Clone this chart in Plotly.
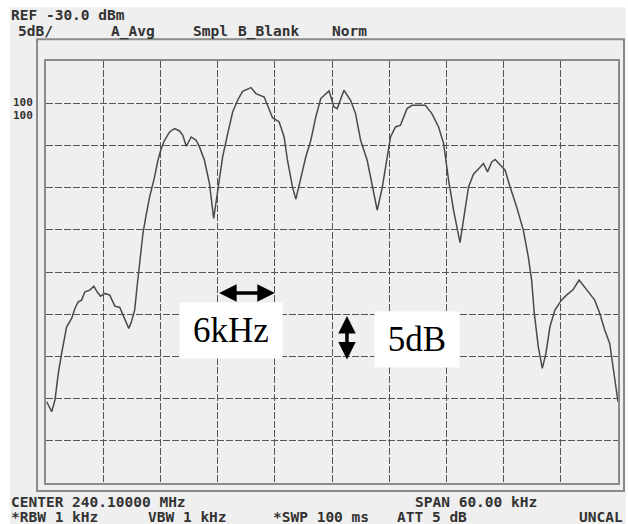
import plotly.graph_objects as go

# Spectrum trace (offset from centre 240.1 MHz in kHz, level in dBm)
freq_khz = [-29.93,-29.40,-29.06,-28.71,-28.36,-27.84,-27.31,-26.97,-26.62,-26.27,
            -25.92,-25.40,-24.98,-24.64,-24.28,-23.83,-23.31,-22.78,-22.26,-21.92,
            -21.64,-21.32,-21.04,-20.70,-20.41,-20.17,-19.83,-19.47,-19.13,-18.61,
            -18.26,-17.91,-17.56,-17.04,-16.52,-15.99,-15.65,-15.29,-14.77,-14.25,
            -13.90,-13.38,-12.86,-12.41,-11.99,-11.47,-10.94,-10.42,-9.90,-9.38,
            -8.50,-7.98,-7.11,-6.59,-6.24,-5.54,-5.02,-4.67,-4.15,-3.79,
            -3.27,-2.75,-2.22,-1.70,-1.18,-0.49,-0.31,0.21,0.55,1.25,
            1.95,2.47,3.00,3.69,4.21,4.74,5.26,5.78,6.14,6.66,
            7.18,7.87,8.39,9.79,10.48,11.18,11.71,12.23,12.75,13.43,
            13.90,14.32,14.84,15.37,15.89,16.31,16.76,17.11,17.64,18.16,
            18.68,19.37,20.07,20.59,20.94,21.22,21.64,22.06,22.44,22.86,
            23.38,24.07,24.60,25.30,25.92,26.34,27.04,27.56,28.09,28.61,
            29.13,29.48,30.00]
level_dbm = [-70.37,-71.56,-70.17,-67.01,-64.64,-61.49,-60.50,-59.32,-58.53,-58.33,
             -57.35,-57.15,-56.68,-57.35,-57.86,-57.54,-57.74,-59.04,-59.20,-60.11,
             -60.90,-61.68,-60.90,-59.52,-56.36,-53.60,-50.44,-48.07,-46.10,-43.73,
             -41.76,-40.37,-39.39,-38.41,-38.00,-38.29,-38.80,-40.10,-39.00,-39.39,
             -40.18,-41.76,-44.48,-48.66,-45.31,-41.37,-38.60,-36.04,-34.65,-33.59,
             -33.15,-33.86,-34.26,-35.64,-36.72,-37.22,-39.00,-41.76,-44.92,-46.37,
             -43.73,-41.37,-39.39,-36.63,-34.45,-33.67,-33.55,-35.45,-35.64,-33.47,
             -34.65,-36.23,-39.39,-41.76,-44.92,-47.68,-45.07,-41.52,-39.00,-37.81,
             -37.61,-35.64,-35.25,-35.25,-36.23,-37.81,-39.78,-44.12,-47.68,-51.53,
             -48.27,-44.92,-43.41,-42.74,-42.15,-43.14,-41.96,-41.67,-42.35,-42.94,
             -44.92,-47.29,-50.04,-53.21,-55.96,-59.91,-63.86,-66.42,-64.64,-61.49,
             -59.52,-58.33,-57.74,-57.07,-55.96,-56.56,-57.54,-58.33,-59.91,-61.88,
             -63.46,-66.23,-70.37]

x_range = [-30, 30]
y_range = [-80, -30]

header_top = ["REF -30.0 dBm"]
header_row = ["5dB/", "A_Avg", "Smpl", "B_Blank", "Norm"]
footer_row1 = ["CENTER 240.10000 MHz", "SPAN 60.00 kHz"]
footer_row2 = ["*RBW 1 kHz", "VBW 1 kHz", "*SWP 100 ms", "ATT 5 dB", "UNCAL"]

W, H = 628, 524
L, R, T, B = 46, 620, 60.7, 483


def px(xp):
    return (xp - L) / (R - L)


def py(yp):
    return (B - yp) / (B - T)


fig = go.Figure()
fig.add_trace(go.Scatter(x=freq_khz, y=level_dbm, mode="lines",
                         line=dict(color="#4a4a4a", width=1.5),
                         hoverinfo="skip", showlegend=False))

grid = dict(showgrid=True, gridcolor="#555555", gridwidth=1, griddash="7px,2px",
            zeroline=False, showticklabels=False, ticks="",
            showline=True, linecolor="#8a8a8a", linewidth=2, mirror=True)
fig.update_xaxes(range=x_range, dtick=6, tick0=-30, **grid)
fig.update_yaxes(range=y_range, dtick=5, tick0=-80, **grid)

shapes = [
    dict(type="rect", xref="paper", yref="paper", x0=px(10), x1=px(628), y0=py(7), y1=py(524),
         fillcolor="#efefef", line=dict(width=0), layer="below"),
    dict(type="rect", xref="paper", yref="paper", x0=px(37), x1=px(626), y0=py(39), y1=py(491),
         fillcolor="rgba(0,0,0,0)", line=dict(color="#8a8a8a", width=2), layer="below"),
]

mono = dict(family="DejaVu Sans Mono", size=14.5, color="#333333")
ann = []


def txt(s, xp, yp, font=mono):
    ann.append(dict(text="<b>%s</b>" % s, xref="paper", yref="paper", x=px(xp), y=py(yp),
                    xanchor="left", yanchor="middle", showarrow=False, font=font))


txt(header_top[0], 9, 15)
for s, xp in zip(header_row, [16, 109, 192, 237, 331]):
    txt(s, xp, 31)
small = dict(family="DejaVu Sans Mono", size=11, color="#333333")
txt("100", 11, 102, small)
txt("100", 11, 115, small)
for s, xp in zip(footer_row1, [9, 414]):
    txt(s, xp, 502)
for s, xp in zip(footer_row2, [9, 146, 272, 396, 579]):
    txt(s, xp, 517)

# scale annotations: one division = 6 kHz horizontally, 5 dB vertically
ann.append(dict(x=-6, y=-57.5, ax=-12, ay=-57.5, axref="x", ayref="y", xref="x", yref="y",
                text="", showarrow=True, arrowside="end+start", arrowhead=2, startarrowhead=2,
                arrowsize=1, startarrowsize=1, arrowwidth=3.5, arrowcolor="black",
                standoff=0, startstandoff=0))
ann.append(dict(x=1.57, y=-60.2, ax=1.57, ay=-65.55, axref="x", ayref="y", xref="x", yref="y",
                text="", showarrow=True, arrowside="end+start", arrowhead=2, startarrowhead=2,
                arrowsize=1, startarrowsize=1, arrowwidth=3.5, arrowcolor="black",
                standoff=0, startstandoff=0))
serif = dict(family="Liberation Serif", size=35, color="black")
ann.append(dict(text="6kHz", x=-10.56, y=-61.94, xref="x", yref="y", showarrow=False,
                bgcolor="white", width=102, height=55, borderpad=0, font=serif,
                xanchor="center", yanchor="middle"))
ann.append(dict(text="5dB", x=8.88, y=-63.01, xref="x", yref="y", showarrow=False,
                bgcolor="white", width=84, height=55, borderpad=0, font=serif,
                xanchor="center", yanchor="middle"))

fig.update_layout(width=W, height=H, margin=dict(l=L, r=W - R, t=T, b=H - B),
                  paper_bgcolor="white", plot_bgcolor="#efefef",
                  shapes=shapes, annotations=ann, showlegend=False)

fig.write_html("out.html", config={"displayModeBar": False},
               post_script="document.body.style.margin='0';document.body.style.overflow='hidden';")
